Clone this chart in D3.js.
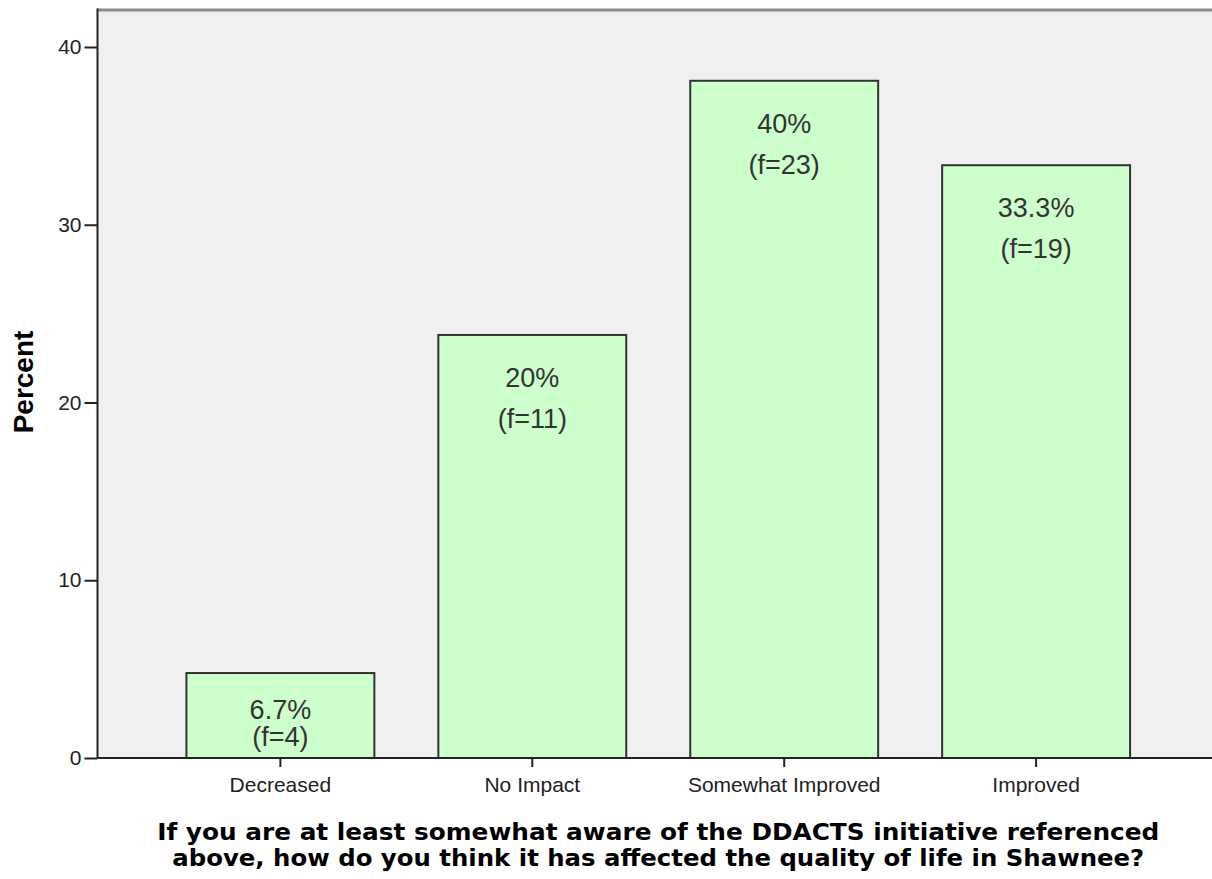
<!DOCTYPE html>
<html>
<head>
<meta charset="utf-8">
<script src="https://cdn.jsdelivr.net/npm/d3@7"></script>
<style>
  html, body { margin: 0; padding: 0; background: #fff; }
  svg { display: block; }
</style>
</head>
<body>
<svg id="chart" width="1212" height="879"></svg>
<script>
// ---- data ----
const categories = ["Decreased", "No Impact", "Somewhat Improved", "Improved"];
const percents = [4.78, 23.8, 38.1, 33.35];
const pctLabels = ["6.7%", "20%", "40%", "33.3%"];
const freqLabels = ["(f=4)", "(f=11)", "(f=23)", "(f=19)"];
const yTicks = [0, 10, 20, 30, 40];
const yTitle = "Percent";
const xTitleLines = [
  "If you are at least somewhat aware of the DDACTS initiative referenced",
  "above, how do you think it has affected the quality of life in Shawnee?"
];

(function () {
// ---- layout ----
const W = 1212, H = 879;
const pLeft = 97.5, pRight = 1219, pTop = 10, pBottom = 758;
const svg = d3.select("#chart");

const x = d3.scaleBand().domain(categories).range([pLeft, pRight])
  .paddingInner(0.254).paddingOuter(0.353);
const y = d3.scaleLinear().domain([0, 40]).range([pBottom, 47]);

// plot background
svg.append("rect").attr("x", pLeft).attr("y", pTop)
  .attr("width", pRight - pLeft).attr("height", pBottom - pTop)
  .attr("fill", "#f0f0f0");
// top frame line
svg.append("line").attr("x1", pLeft).attr("x2", W).attr("y1", pTop).attr("y2", pTop)
  .attr("stroke", "#8c8c8c").attr("stroke-width", 3);

// bars
svg.append("g").selectAll("rect").data(categories).join("rect")
  .attr("x", d => x(d)).attr("width", x.bandwidth())
  .attr("y", (d, i) => y(percents[i]))
  .attr("height", (d, i) => y(0) - y(percents[i]))
  .attr("fill", "#ccffcc").attr("stroke", "#333").attr("stroke-width", 2);

// bar labels
const lab = svg.append("g").attr("font-family", "'Liberation Sans', Arial, sans-serif")
  .attr("font-size", 27).attr("fill", "#333").attr("text-anchor", "middle");
categories.forEach((c, i) => {
  const yt = y(percents[i]);
  const h = y(0) - yt;
  let b1 = yt + 52, b2 = yt + 93;
  if (h < 110) { b1 = y(0) - 39; b2 = y(0) - 12; }
  const cx = x(c) + x.bandwidth() / 2;
  lab.append("text").attr("x", cx).attr("y", b1).text(pctLabels[i]);
  lab.append("text").attr("x", cx).attr("y", b2).text(freqLabels[i]);
});

// y axis
const yAxis = d3.axisLeft(y).tickValues(yTicks).tickSize(13).tickPadding(3).tickFormat(d3.format("d"));
const gy = svg.append("g").attr("transform", `translate(${pLeft},0)`).call(yAxis);
gy.select(".domain").remove();
gy.selectAll(".tick line").attr("stroke", "#222").attr("stroke-width", 2);
gy.selectAll(".tick text").attr("font-family", "'Liberation Sans', Arial, sans-serif")
  .attr("font-size", 21).attr("fill", "#222");
svg.append("line").attr("x1", pLeft).attr("x2", pLeft).attr("y1", pTop - 1.5).attr("y2", pBottom)
  .attr("stroke", "#222").attr("stroke-width", 2);

// x axis
const xAxis = d3.axisBottom(x).tickSize(9).tickPadding(10);
const gx = svg.append("g").attr("transform", `translate(0,${pBottom})`).call(xAxis);
gx.select(".domain").remove();
gx.selectAll(".tick line").attr("stroke", "#222").attr("stroke-width", 2);
gx.selectAll(".tick text").attr("font-family", "'Liberation Sans', Arial, sans-serif")
  .attr("font-size", 21).attr("fill", "#222");
svg.append("line").attr("x1", pLeft).attr("x2", W).attr("y1", pBottom).attr("y2", pBottom)
  .attr("stroke", "#222").attr("stroke-width", 2);

// y title
svg.append("text").attr("transform", `translate(33,382) rotate(-90)`)
  .attr("text-anchor", "middle").attr("font-family", "'Liberation Sans', Arial, sans-serif")
  .attr("font-weight", "bold").attr("font-size", 28).attr("fill", "#000").text(yTitle);

// x title
const cxTitle = (pLeft + pRight) / 2;
const tt = svg.append("g").attr("font-family", "'DejaVu Sans', Verdana, sans-serif")
  .attr("font-weight", "bold").attr("font-size", 23).attr("fill", "#000").attr("text-anchor", "middle");
const targetW = [1002, 972];
xTitleLines.forEach((s, i) => {
  tt.append("text").attr("x", cxTitle).attr("y", 840 + i * 26)
    .attr("textLength", targetW[i]).attr("lengthAdjust", "spacingAndGlyphs").text(s);
});
})();
</script>
</body>
</html>
